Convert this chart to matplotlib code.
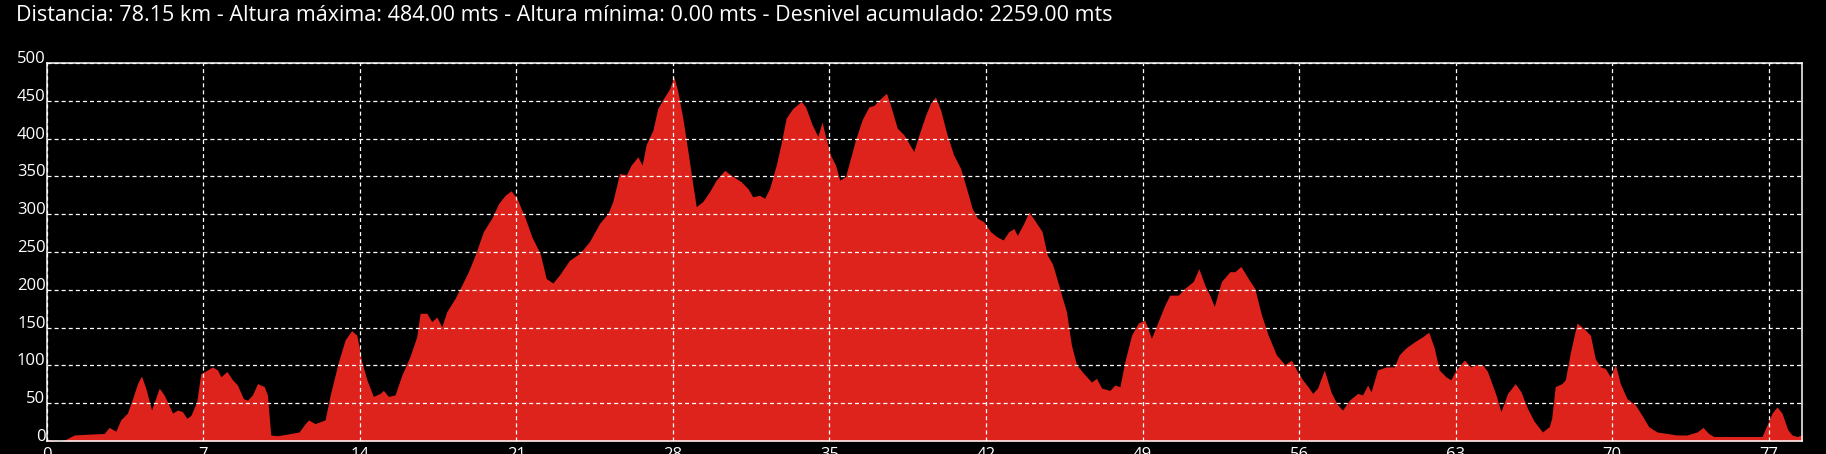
import matplotlib
matplotlib.use("Agg")
import matplotlib.pyplot as plt
import numpy as np

plt.rcParams['font.family'] = ['Open Sans', 'DejaVu Sans']
plt.rcParams['lines.scale_dashes'] = False

# Elevation profile (km, m)
km = np.array([
    0.00, 0.20, 0.70, 1.22, 1.81, 2.56, 2.78, 3.08, 3.30, 3.60, 3.83, 4.05, 4.23, 4.42,
    4.68, 5.02, 5.24, 5.62, 5.84, 6.06, 6.26, 6.44, 6.70, 6.88, 7.18, 7.40, 7.63, 7.78,
    8.05, 8.30, 8.52, 8.79, 8.97, 9.19, 9.42, 9.72, 9.86, 10.01, 10.31, 10.91, 11.28,
    11.55, 11.70, 11.99, 12.44, 12.67, 13.04, 13.34, 13.63, 13.86, 14.08, 14.31, 14.60,
    14.90, 15.05, 15.27, 15.57, 15.87, 16.24, 16.54, 16.69, 16.99, 17.21, 17.44, 17.66,
    17.88, 18.26, 18.55, 18.85, 19.15, 19.52, 19.90, 20.20, 20.49, 20.76, 21.02, 21.39,
    21.69, 22.06, 22.33, 22.63, 22.93, 23.37, 23.82, 24.27, 24.72, 25.09, 25.31, 25.61,
    25.91, 26.13, 26.43, 26.62, 26.80, 27.10, 27.32, 27.62, 27.85, 28.04, 28.22, 28.44,
    28.67, 28.89, 29.04, 29.34, 29.64, 29.93, 30.31, 30.68, 31.05, 31.35, 31.57, 31.87,
    32.10, 32.32, 32.62, 32.84, 33.06, 33.36, 33.74, 33.93, 34.23, 34.48, 34.67, 34.82,
    35.05, 35.27, 35.46, 35.72, 35.94, 36.16, 36.46, 36.76, 36.99, 37.28, 37.55, 37.73,
    38.03, 38.33, 38.55, 38.77, 39.00, 39.30, 39.52, 39.74, 39.97, 40.26, 40.56, 40.86,
    41.08, 41.38, 41.61, 41.90, 42.20, 42.50, 42.77, 43.02, 43.25, 43.40, 43.69, 43.92,
    44.22, 44.51, 44.74, 44.96, 45.08, 45.38, 45.60, 45.82, 46.05, 46.35, 46.72, 46.94,
    47.17, 47.54, 47.76, 47.99, 48.21, 48.51, 48.81, 49.10, 49.40, 49.70, 50.00, 50.22,
    50.60, 50.89, 51.27, 51.52, 51.79, 52.01, 52.21, 52.53, 52.91, 53.13, 53.40, 53.73,
    54.02, 54.32, 54.62, 54.99, 55.37, 55.66, 55.96, 56.19, 56.40, 56.61, 56.83, 57.13,
    57.43, 57.72, 57.95, 58.25, 58.62, 58.84, 59.07, 59.22, 59.51, 59.89, 60.26, 60.48,
    60.78, 61.15, 61.53, 61.80, 62.05, 62.27, 62.57, 62.79, 63.02, 63.39, 63.69, 63.91,
    64.21, 64.43, 64.81, 65.03, 65.33, 65.67, 65.93, 66.22, 66.52, 66.89, 67.19, 67.30,
    67.46, 67.76, 67.91, 68.13, 68.43, 68.73, 69.03, 69.25, 69.48, 69.70, 69.92, 70.15,
    70.37, 70.67, 71.04, 71.34, 71.64, 72.01, 72.46, 72.90, 73.35, 73.80, 74.07, 74.32,
    74.55, 75.14, 75.89, 76.71, 76.93, 77.16, 77.38, 77.60, 77.86, 78.05, 78.27, 78.50,
])
altura = np.array([
    3, 1, 0, 8, 9, 10, 18, 13, 28, 37, 56, 76, 86, 70,
    41, 70, 61, 37, 41, 39, 30, 34, 52, 89, 94, 98, 94, 85,
    92, 81, 74, 56, 54, 61, 76, 72, 61, 8, 7, 10, 12,
    23, 28, 23, 28, 61, 105, 134, 146, 140, 105, 81, 59,
    63, 67, 59, 61, 87, 112, 138, 169, 169, 158, 164, 151,
    171, 189, 206, 224, 246, 277, 295, 314, 325, 331, 321, 295,
    270, 248, 215, 209, 220, 239, 248, 264, 288, 301, 317, 354,
    352, 365, 376, 365, 392, 411, 440, 455, 466, 482, 462, 427,
    383, 339, 310, 317, 330, 345, 358, 350, 343, 334, 323, 325,
    321, 334, 365, 394, 427, 440, 449, 442, 418, 403, 422, 403,
    378, 365, 345, 350, 374, 398, 425, 442, 444, 453, 460, 444,
    414, 405, 394, 383, 405, 431, 447, 455, 438, 405, 378, 361,
    339, 308, 295, 290, 277, 270, 266, 277, 281, 272, 288, 303,
    290, 277, 246, 235, 224, 193, 171, 127, 101, 90, 78, 83,
    70, 67, 74, 72, 105, 140, 156, 160, 136, 158, 180, 193,
    193, 202, 211, 228, 206, 193, 178, 211, 224, 224, 231, 215,
    202, 167, 140, 114, 101, 107, 90, 80, 72, 63, 70, 94,
    65, 48, 41, 54, 63, 61, 74, 65, 94, 98, 98, 114,
    123, 131, 138, 144, 123, 94, 85, 81, 94, 107, 98, 101,
    101, 92, 61, 39, 63, 76, 65, 43, 26, 12, 19, 30,
    72, 76, 81, 116, 156, 149, 140, 109, 98, 96, 85, 101,
    76, 56, 48, 34, 19, 12, 10, 8, 8, 12, 18, 10,
    6, 6, 6, 6, 21, 37, 45, 37, 15, 8, 6, 8,
])

xticks = [0, 7, 14, 21, 28, 35, 42, 49, 56, 63, 70, 77]
yticks = [0, 50, 100, 150, 200, 250, 300, 350, 400, 450, 500]
titulo = ("Distancia: 78.15 km - Altura máxima: 484.00 mts - "
          "Altura mínima: 0.00 mts - Desnivel acumulado: 2259.00 mts")

fig = plt.figure(figsize=(18.26, 4.54), dpi=100, facecolor='black')
ax = fig.add_axes([0.0257, 0.0286, 0.9612, 0.8326], facecolor='black')

ax.fill_between(km, 0, altura, color='#dd231c', linewidth=0, zorder=1)

ax.set_xlim(0, 78.5)
ax.set_ylim(0, 500)
ax.set_xticks(xticks)
ax.set_yticks(yticks)
ax.set_xticklabels([str(t) for t in xticks])
ax.set_yticklabels([str(t) for t in yticks])

ax.set_axisbelow(False)
ax.grid(True, color='white', linewidth=0.9, linestyle=(0, (2.9, 2.2)), zorder=3)

for s in ax.spines.values():
    s.set_color('white')
    s.set_linewidth(1.1)
    s.set_zorder(4)

ax.tick_params(axis='both', length=0, colors='white', labelsize=12)
ax.tick_params(axis='x', pad=4)
ax.tick_params(axis='y', pad=1)
for t in ax.get_yticklabels():
    t.set_verticalalignment('baseline')

fig.text(16 / 1826, 1 - 21 / 454, titulo, color='white', fontsize=15.5,
         ha='left', va='baseline')

fig.savefig('out.png', dpi=100, facecolor='black')
